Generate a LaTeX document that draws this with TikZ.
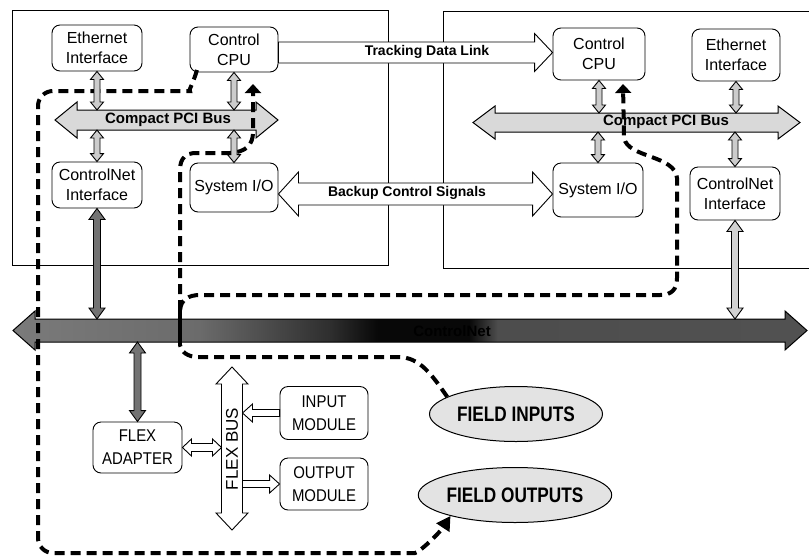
\documentclass[tikz,border=0pt]{standalone}
\usepackage{fontspec}
\setmainfont{Liberation Sans}
\usetikzlibrary{calc,shapes.geometric,arrows.meta}
\pgfdeclarehorizontalshading{cnetshade}{100bp}{color(0bp)=(black!52); color(25bp)=(black!52); color(36.7bp)=(black!58); color(45bp)=(black!82); color(48bp)=(black!97); color(53.7bp)=(black!97); color(55.5bp)=(black!70); color(75bp)=(black!68); color(100bp)=(black!68)}
% vertical double block arrow: top point, bottom point, half shaft, half head, head length
\newcommand{\VDArr}[6]{\draw[#1] let \p1=#2, \p2=#3 in (\x1,\y1) -- (\x1+#5,\y1-#6) -- (\x1+#4,\y1-#6) -- (\x1+#4,\y2+#6) -- (\x1+#5,\y2+#6) -- (\x1,\y2) -- (\x1-#5,\y2+#6) -- (\x1-#4,\y2+#6) -- (\x1-#4,\y1-#6) -- (\x1-#5,\y1-#6) -- cycle;}
% horizontal double block arrow: left point, right point
\newcommand{\HDArr}[6]{\draw[#1] let \p1=#2, \p2=#3 in (\x1,\y1) -- (\x1+#6,\y1+#5) -- (\x1+#6,\y1+#4) -- (\x2-#6,\y1+#4) -- (\x2-#6,\y1+#5) -- (\x2,\y1) -- (\x2-#6,\y1-#5) -- (\x2-#6,\y1-#4) -- (\x1+#6,\y1-#4) -- (\x1+#6,\y1-#5) -- cycle;}
% single block arrow pointing right: tail, tip
\newcommand{\RArr}[6]{\draw[#1] let \p1=#2, \p2=#3 in (\x1,\y1+#4) -- (\x2-#6,\y1+#4) -- (\x2-#6,\y1+#5) -- (\x2,\y1) -- (\x2-#6,\y1-#5) -- (\x2-#6,\y1-#4) -- (\x1,\y1-#4) -- cycle;}
% single block arrow pointing left: tip, tail
\newcommand{\LArr}[6]{\draw[#1] let \p1=#2, \p2=#3 in (\x1,\y1) -- (\x1+#6,\y1+#5) -- (\x1+#6,\y1+#4) -- (\x2,\y1+#4) -- (\x2,\y1-#4) -- (\x1+#6,\y1-#4) -- (\x1+#6,\y1-#5) -- cycle;}
\begin{document}
\begin{tikzpicture}[x=1pt,y=-1pt,
  box/.style={draw, line width=0.9pt, rounded corners=8pt, fill=white, align=center, inner sep=0pt, font=\fontsize{16}{20}\selectfont},
  modbox/.style={box, font=\fontsize{17}{23}\selectfont},
  field/.style={ellipse, draw, line width=1pt, fill=gray!22, minimum width=173pt, minimum height=55pt, inner sep=0pt},
  panel/.style={line width=0.9pt},
  smallarr/.style={draw, line width=0.9pt, fill=gray!40},
  hollow/.style={draw, line width=0.9pt, fill=white},
  cnarr/.style={draw, line width=0.9pt, fill=black!55},
  cnarrR/.style={draw, line width=0.9pt, fill=gray!35},
  pcibus/.style={draw, line width=1pt, fill=gray!30},
  cnbus/.style={draw, line width=1pt, shade, shading=cnetshade},
  sig/.style={line width=4pt, dash pattern=on 10pt off 6pt},
  sigtip/.style={-{Triangle[length=9pt,width=16pt]}},
  buslabel/.style={font=\bfseries\fontsize{15}{15}\selectfont},
  linklabel/.style={font=\bfseries\fontsize{14}{14}\selectfont}]
\useasboundingbox (0,0) rectangle (809,558);
\fill[white] (0,0) rectangle (809,558);
% panels
\draw[panel] (12,10) rectangle (388,265);
\draw[panel] (809,11) -- (443,11) -- (443,268) -- (809,268);
% nodes
\node[box, minimum width=90pt, minimum height=46pt] (ethL) at (97,48) {Ethernet\\Interface};
\node[box, minimum width=88pt, minimum height=45pt] (cpuL) at (234,49.5) {Control\\CPU};
\node[box, minimum width=90pt, minimum height=46pt] (cnetL) at (97,185) {ControlNet\\Interface};
\node[box, minimum width=88pt, minimum height=49pt] (sioL) at (234,187.5) {System I/O};
\node[box, minimum width=92pt, minimum height=52pt] (cpuR) at (599,54) {Control\\CPU};
\node[box, minimum width=88pt, minimum height=52pt] (ethR) at (736,55) {Ethernet\\Interface};
\node[box, minimum width=90pt, minimum height=54pt] (sioR) at (598,190) {System I/O};
\node[box, minimum width=90pt, minimum height=53pt] (cnetR) at (735,193.5) {ControlNet\\Interface};
\node[modbox, minimum width=89pt, minimum height=51pt] (flex) at (137.5,447.5) {\scalebox{.88}[1]{FLEX}\\\scalebox{.88}[1]{ADAPTER}};
\node[modbox, minimum width=88pt, minimum height=53pt] (inmod) at (324,413) {\scalebox{.88}[1]{INPUT}\\\scalebox{.88}[1]{MODULE}};
\node[modbox, minimum width=88pt, minimum height=52pt] (outmod) at (324,484) {\scalebox{.88}[1]{OUTPUT}\\\scalebox{.88}[1]{MODULE}};
\node[field] (fin) at (516,414) {\scalebox{0.82}[1]{\bfseries\fontsize{21}{21}\selectfont FIELD INPUTS}};
\node[field] (fout) at (515,495) {\scalebox{0.82}[1]{\bfseries\fontsize{21}{21}\selectfont FIELD OUTPUTS}};
% reference coordinates
\coordinate (pLt) at (0,110); \coordinate (pLb) at (0,130);
\coordinate (pRt) at (0,113); \coordinate (pRb) at (0,132);
\coordinate (cnT) at (0,319); \coordinate (cnB) at (0,342);
\coordinate (fbTop) at (232,367); \coordinate (fbBot) at (232,530);
\coordinate (fbL) at (221.5,0); \coordinate (fbR) at (242.5,0);
\coordinate (tdl) at ([yshift=-3pt]cpuL.east);
\coordinate (bcs) at ([yshift=-6.5pt]sioL.east);
% link arrows
\RArr{hollow}{(tdl)}{(tdl -| cpuR.west)}{10.5}{19}{18}
\node[linklabel] (tdlLab) at (427,52) {Tracking Data Link};
\HDArr{hollow}{(bcs)}{(bcs -| sioR.west)}{11}{22}{20}
\node[linklabel] (bcsLab) at (407,193) {Backup Control Signals};
% buses
\HDArr{pcibus}{(55,120)}{(278,120)}{10}{18}{22}
\node[buslabel] (pciLab) at (168,120) {Compact PCI Bus};
\HDArr{pcibus}{(473,122.5)}{(800,122.5)}{9.5}{16.5}{22}
\node[buslabel] (pciRLab) at (666,122) {Compact PCI Bus};
\HDArr{cnbus}{(13,330.5)}{(807,330.5)}{11.5}{19.5}{22}
\node[buslabel] (cnLab) at (452,331) {ControlNet};
% signal paths
\coordinate (bstart) at (197,70);
\draw[sig, rounded corners=15pt, -{Triangle[length=14pt,width=15pt]}] (bstart) .. controls (193,84) and (188,91) .. (175,91) -- (38,91) -- (38,553) -- (400,553) .. controls (418,553) and (438,535) .. (fout.198);
\draw[sig] (fin.166) .. controls (432,375) and (420,357) .. (398,357) -- (198,357) .. controls (188,357) and (181,352) .. (180,345);
\coordinate (jn) at (180,310);
\draw[line width=4pt] (180,346) -- (jn);
\coordinate (tipL) at (253,84);
\coordinate (tipR) at (623,84);
\draw[sig, sigtip] (jn) -- (180,170) .. controls (180,158) and (186,153) .. (196,153) -- (230,153) .. controls (246,152) and (253,145) .. (253,132) -- (tipL);
\draw[sig, sigtip] (jn) .. controls (181,300) and (188,295) .. (200,295) -- (660,295) .. controls (672,295) and (677,289) .. (677,278) -- (677,178) .. controls (675,155) and (628,158) .. (624,138) -- (tipR);
% small bus arrows
\VDArr{smallarr}{(ethL.south)}{(ethL.south |- pLt)}{3}{6.5}{8}
\VDArr{smallarr}{(cpuL.south)}{(cpuL.south |- pLt)}{3}{6.5}{8}
\VDArr{smallarr}{(cnetL.north |- pLb)}{(cnetL.north)}{3}{6.5}{8}
\VDArr{smallarr}{(sioL.north |- pLb)}{(sioL.north)}{3}{6.5}{8}
\VDArr{smallarr}{(cpuR.south)}{(cpuR.south |- pRt)}{3}{6.5}{8}
\VDArr{smallarr}{(ethR.south)}{(ethR.south |- pRt)}{3}{6.5}{8}
\VDArr{smallarr}{(sioR.north |- pRb)}{(sioR.north)}{3}{6.5}{8}
\VDArr{smallarr}{(cnetR.north |- pRb)}{(cnetR.north)}{3}{6.5}{8}
% ControlNet drops
\VDArr{cnarr}{(cnetL.south)}{(cnetL.south |- cnT)}{3.5}{8}{11}
\VDArr{cnarrR}{(cnetR.south)}{(cnetR.south |- cnT)}{3.5}{8}{11}
\VDArr{cnarr}{(flex.north |- cnB)}{(flex.north)}{3.5}{8}{11}
% flex bus
\VDArr{hollow}{(fbTop)}{(fbBot)}{10.5}{16}{17}
\node[rotate=90, font=\fontsize{17}{17}\selectfont] (fbLab) at (232,449) {FLEX BUS};
\HDArr{hollow}{(flex.east)}{(flex.east -| fbL)}{4}{8.5}{9}
\LArr{hollow}{(inmod.west -| fbR)}{(inmod.west)}{3.5}{9}{10}
\RArr{hollow}{(outmod.west -| fbR)}{(outmod.west)}{3.5}{9}{10}
\end{tikzpicture}
\end{document}
